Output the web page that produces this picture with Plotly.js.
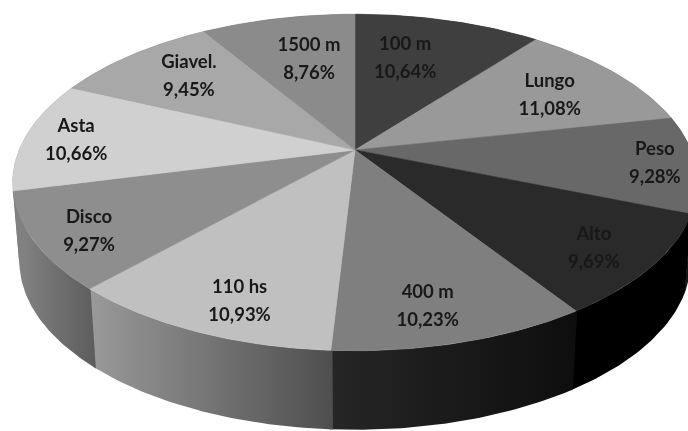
<!DOCTYPE html>
<html>
<head>
<meta charset="utf-8">
<script src="https://cdn.plot.ly/plotly-3.0.1.min.js"></script>
<style>html,body{margin:0;padding:0;background:#fff;overflow:hidden}#chart{width:688px;height:431px;filter:blur(0.5px)}</style>
</head>
<body>
<div id="chart"></div>
<script>
const categories = ['100 m','Lungo','Peso','Alto','400 m','110 hs','Disco','Asta','Giavel.','1500 m'];
const values = [10.64,11.08,9.28,9.69,10.23,10.93,9.27,10.66,9.45,8.76];
const valueLabels = ['10,64%','11,08%','9,28%','9,69%','10,23%','10,93%','9,27%','10,66%','9,45%','8,76%'];
const topColors = ['#3f3f3f','#999999','#686868','#2a2a2a','#7f7f7f','#c0c0c0','#8e8e8e','#d0d0d0','#a8a8a8','#8b8b8b'];
const wallLeft = ['#2a2a2a','#666666','#484848','#000000','#262626','#9a9a9a','#868686','#808080','#707070','#5c5c5c'];
const wallRight = ['#2a2a2a','#666666','#000000','#000000','#0e0e0e','#4e4e4e','#5c5c5c','#808080','#707070','#5c5c5c'];

// projection of the tilted disc onto the page
const view = {cx:355, cy:150, a:336, b:162, k:0.193, depth:79, bottomScale:0.98, labelR:0.72, lineGap:14};
const labelNudge = [[-20,7],[3,4],[56,4],[33,19],[0,27],[-7,29],[-42,18],[-41,2],[0,-2],[12,9]];

function proj(theta, r){
  const u = r*Math.sin(theta), v = r*Math.cos(theta), d = 1+view.k*v;
  return [view.cx+view.a*u/d, view.cy-view.b*v/d];
}
const total = values.reduce((s,v)=>s+v,0);
let cum = 0;
const spans = values.map(v=>{const s=[cum/total*2*Math.PI,(cum+v)/total*2*Math.PI];cum+=v;return s;});
function arc(s0,s1,n){const o=[];for(let i=0;i<=n;i++){o.push(proj(s0+(s1-s0)*i/n,1));}return o;}

const traces = [];
const base = {type:'scatter',mode:'lines',fill:'toself',hoverinfo:'skip',showlegend:false};
// walls: upper rim, then the slightly narrower lower rim
spans.forEach((s,i)=>{
  const rim = arc(s[0]-0.004,s[1]+0.004,48);
  const low = rim.slice().reverse();
  const xs = rim.map(p=>p[0]).concat(low.map(p=>view.cx+(p[0]-view.cx)*view.bottomScale));
  const ys = rim.map(p=>p[1]).concat(low.map(p=>p[1]+view.depth));
  traces.push(Object.assign({},base,{x:xs,y:ys,line:{width:0},
    fillgradient:{type:'horizontal',colorscale:[[0,wallLeft[i]],[1,wallRight[i]]]}}));
});
// top faces
spans.forEach((s,i)=>{
  const rim = arc(s[0],s[1],48);
  traces.push(Object.assign({},base,{
    x:[view.cx].concat(rim.map(p=>p[0]),[view.cx]),
    y:[view.cy].concat(rim.map(p=>p[1]),[view.cy]),
    line:{width:0.6,color:topColors[i]},
    fillcolor:topColors[i]}));
});
// labels
const lx=[],ly=[],lt=[];
spans.forEach((s,i)=>{
  const p = proj((s[0]+s[1])/2, view.labelR);
  const x = p[0]+labelNudge[i][0], y = p[1]+labelNudge[i][1];
  lx.push(x,x); ly.push(y-view.lineGap,y+view.lineGap); lt.push(categories[i],valueLabels[i]);
});
traces.push({type:'scatter',mode:'text',x:lx,y:ly,text:lt,textposition:'middle center',
  textfont:{family:'Lato, sans-serif',size:18.5,weight:700,color:'#181818'},hoverinfo:'skip',showlegend:false});

Plotly.newPlot('chart',traces,{
  width:688,height:431,margin:{l:0,r:0,t:0,b:0},
  paper_bgcolor:'#ffffff',plot_bgcolor:'#ffffff',showlegend:false,
  xaxis:{range:[0,688],visible:false,fixedrange:true},
  yaxis:{range:[431,0],visible:false,fixedrange:true}
},{displayModeBar:false,staticPlot:true});
</script>
</body>
</html>
